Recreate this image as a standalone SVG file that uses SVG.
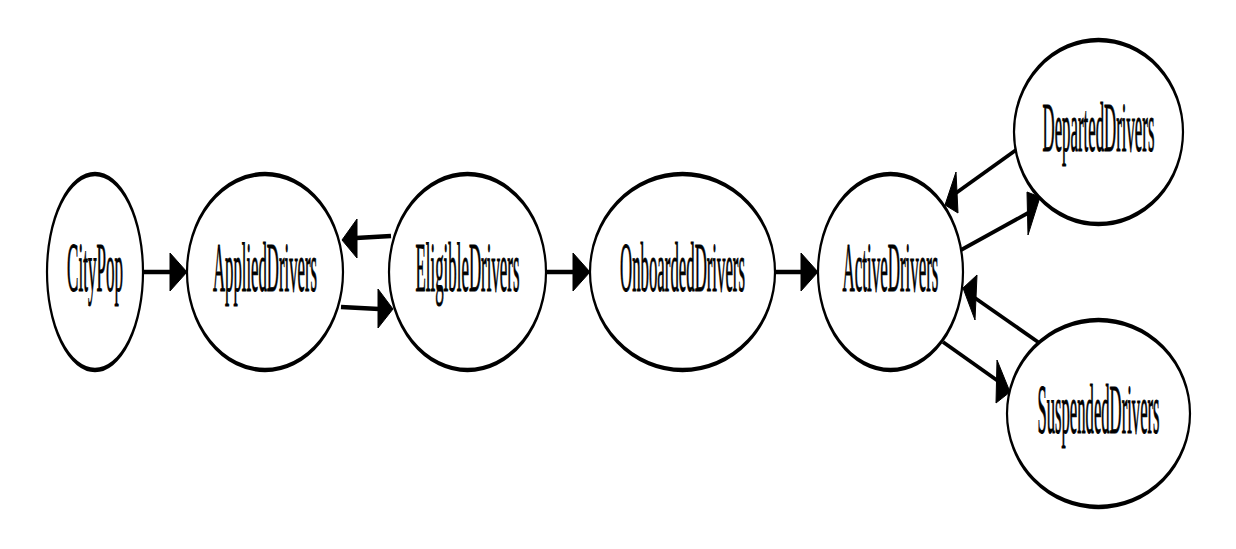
<svg xmlns="http://www.w3.org/2000/svg" width="1236" height="549" viewBox="0 0 1236 549">
<style>
.node ellipse{fill:#ffffff;stroke:#000000;stroke-width:2.2}
.node text{font-family:"Liberation Serif","Times New Roman",serif;font-size:70px;fill:#000000;stroke:#000000;stroke-width:1;text-anchor:middle}
.edge line{stroke:#000000;stroke-width:4.5;fill:none}
.edge .d{stroke-width:3.8}
.edge polygon{fill:#000000;stroke:#000000;stroke-width:1}
</style>
<rect width="1236" height="549" fill="#ffffff"/>
<g id="connectors" class="edge">
  <line x1="143" y1="272" x2="172" y2="272"/>
  <polygon points="170,253 187,272 170,291"/>
  <line x1="391" y1="236" x2="356" y2="238"/>
  <polygon points="357,219 342,240 357,258"/>
  <line x1="341" y1="307" x2="379" y2="309"/>
  <polygon points="378,289 393,309 378,328"/>
  <line x1="546" y1="272" x2="575" y2="272"/>
  <polygon points="573,253 590,272 573,291"/>
  <line x1="775" y1="272" x2="803" y2="272"/>
  <polygon points="801,253 818,272 801,291"/>
  <line class="d" x1="1016" y1="150" x2="956" y2="193"/>
  <polygon points="956,172 945,205 958,213"/>
  <line class="d" x1="961" y1="250" x2="1028" y2="213"/>
  <polygon points="1027,192 1040,197 1028,235"/>
  <line class="d" x1="1038" y1="342" x2="975" y2="298"/>
  <polygon points="977,275 963,288 975,320"/>
  <line class="d" x1="943" y1="342" x2="998" y2="381"/>
  <polygon points="997,360 1010,392 996,403"/>
</g>
<g id="CityPop" class="node">
  <ellipse cx="95" cy="136" rx="48" ry="49" transform="scale(1,2)"/>
  <text transform="translate(95,291) scale(0.244,1)">CityPop</text>
</g>
<g id="AppliedDrivers" class="node">
  <ellipse cx="265" cy="136" rx="78" ry="49" transform="scale(1,2)"/>
  <text transform="translate(265,291) scale(0.239,1)">AppliedDrivers</text>
</g>
<g id="EligibleDrivers" class="node">
  <ellipse cx="467.5" cy="136" rx="78.5" ry="49" transform="scale(1,2)"/>
  <text transform="translate(467.5,291) scale(0.241,1)">EligibleDrivers</text>
</g>
<g id="OnboardedDrivers" class="node">
  <ellipse cx="682.5" cy="136" rx="92.5" ry="49" transform="scale(1,2)"/>
  <text transform="translate(682.5,291) scale(0.24,1)">OnboardedDrivers</text>
</g>
<g id="ActiveDrivers" class="node">
  <ellipse cx="890.5" cy="136" rx="72.5" ry="49" transform="scale(1,2)"/>
  <text transform="translate(890.5,291) scale(0.242,1)">ActiveDrivers</text>
</g>
<g id="DepartedDrivers" class="node">
  <ellipse cx="1098.5" cy="66" rx="84.5" ry="46" transform="scale(1,2)"/>
  <text transform="translate(1098.5,151) scale(0.24,1)">DepartedDrivers</text>
</g>
<g id="SuspendedDrivers" class="node">
  <ellipse cx="1098.5" cy="206.75" rx="91.5" ry="46.75" transform="scale(1,2)"/>
  <text transform="translate(1098.5,432.5) scale(0.238,1)">SuspendedDrivers</text>
</g>
</svg>
